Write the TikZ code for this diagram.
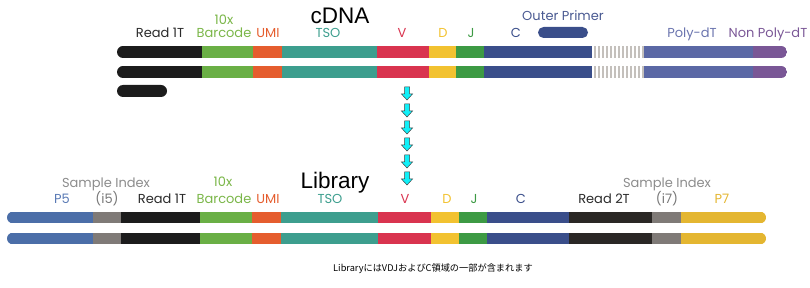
\documentclass[tikz,border=0pt]{standalone}
\usepackage{fontspec}
\setmainfont{Poppins}
\newfontfamily\titlefont{Liberation Sans}
\newfontfamily\jpfont{Noto Sans CJK JP}
\definecolor{cblack}{HTML}{1C1C1C}
\definecolor{bcgreen}{HTML}{6AAF45}
\definecolor{umiorange}{HTML}{E55D2E}
\definecolor{tsoteal}{HTML}{3D9E8E}
\definecolor{vred}{HTML}{D9344F}
\definecolor{dyellow}{HTML}{F2C230}
\definecolor{jgreen}{HTML}{3D9A44}
\definecolor{cblue}{HTML}{3A4E8A}
\definecolor{polydt}{HTML}{5B68A5}
\definecolor{nonpoly}{HTML}{7A5796}
\definecolor{p5blue}{HTML}{4B6EA8}
\definecolor{idxgray}{HTML}{7F7A77}
\definecolor{readtwo}{HTML}{2A2725}
\definecolor{p7yellow}{HTML}{E4B631}
\definecolor{stripegray}{HTML}{C4C0BC}
\definecolor{lblgreen}{HTML}{7AB648}
\definecolor{lblgray}{HTML}{8C8C8C}
\definecolor{lblparen}{HTML}{777777}
\definecolor{lblp5}{HTML}{5A7AB5}
\definecolor{lblouter}{HTML}{4A5A92}
\definecolor{lblpoly}{HTML}{6A74AE}
\definecolor{lbltext}{HTML}{2A2A2A}
\definecolor{arrowcyan}{HTML}{10F0F8}
% #1 y centre, #2 half height, #3 start x, #4 end x, #5 list end/colour
\newcommand\segbar[5]{%
  \begin{scope}
    \clip[rounded corners=#2pt] (#3,#1-#2) rectangle (#4,#1+#2);
    \foreach \xe/\cc [remember=\xe as \xs (initially #3)] in {#5}
      {\fill[\cc] (\xs,#1-#2) rectangle (\xe+0.4,#1+#2);}
  \end{scope}}
\newcommand\stripes[2]{% #1 y centre, #2 start x
  \foreach \i in {0,...,12}
    {\fill[stripegray] (#2+2+\i*4,#1-6) rectangle ++(1.8,12);}}
\newcommand\cyanarrow[3]{% #1 name, #2 x, #3 top y
  \coordinate (#1) at (#2,#3);
  \filldraw[fill=arrowcyan, draw=black!75, line width=0.5pt]
    (#2-2.5,#3) -- (#2+2.5,#3) -- (#2+2.5,#3+7) -- (#2+5.5,#3+7)
    -- (#2,#3+13) -- (#2-5.5,#3+7) -- (#2-2.5,#3+7) -- cycle;}
\tikzset{
  lbl/.style={anchor=base, inner sep=0pt, font=\fontsize{13}{14}\selectfont},
  title/.style={anchor=base, inner sep=0pt, font=\titlefont\fontsize{22.5}{24}\selectfont}
}
\begin{document}
\begin{tikzpicture}[x=1pt,y=-1pt]
\useasboundingbox (0,0) rectangle (810,288);
% ---------- cDNA ----------
\node[title] (cdna) at (340,24) {cDNA};
\node[lbl, text=lbltext] (r1t) at (160,38) {Read 1T};
\node[lbl, text=lblgreen] (tenx) at (224,25) {10x};
\node[lbl, text=lblgreen] (bc) at (224,38) {Barcode};
\node[lbl, text=umiorange] (umi) at (268,38) {UMI};
\node[lbl, text=tsoteal] (tso) at (328,38) {TSO};
\node[lbl, text=vred] (v) at (402,38) {V};
\node[lbl, text=dyellow] (d) at (443,38) {D};
\node[lbl, text=jgreen] (j) at (471,38) {J};
\node[lbl, text=cblue] (c) at (516,38) {C};
\node[lbl, text=lblouter] (outer) at (563,20.5) {Outer Primer};
\node[lbl, text=lblpoly] (poly) at (692,38) {Poly-dT};
\node[lbl, text=nonpoly] (nonp) at (768,38) {Non Poly-dT};
\fill[cblue] (538,27) [rounded corners=5.5pt] rectangle (588,38);
\foreach \yc in {52,72}{
  \segbar{\yc}{6}{117}{787}{202/cblack,253/bcgreen,282/umiorange,377/tsoteal,429/vred,456/dyellow,484/jgreen,592/cblue,644/white,753/polydt,787/nonpoly}
  \stripes{\yc}{592}
}
\fill[cblack, rounded corners=6pt] (117,85) rectangle (167,97);
% ---------- arrows ----------
\foreach \k/\yt in {1/87,2/104,3/121,4/138,5/155,6/172}
  {\cyanarrow{arr\k}{407}{\yt}}
% ---------- Library ----------
\node[title] (lib) at (335,189) {Library};
\node[lbl, text=lblgray] (si1) at (106,188) {Sample Index};
\node[lbl, text=lblp5] (p5) at (62,204) {P5};
\node[lbl, text=lblparen] (i5) at (107,204) {(i5)};
\node[lbl, text=lbltext] (br1t) at (162,204) {Read 1T};
\node[lbl, text=lblgreen] (btenx) at (223,186.5) {10x};
\node[lbl, text=lblgreen] (bbc) at (224,204) {Barcode};
\node[lbl, text=umiorange] (bumi) at (268,204) {UMI};
\node[lbl, text=tsoteal] (btso) at (330,204) {TSO};
\node[lbl, text=vred] (bv) at (405,204) {V};
\node[lbl, text=dyellow] (bd) at (447,204) {D};
\node[lbl, text=jgreen] (bj) at (474,204) {J};
\node[lbl, text=cblue] (bc2) at (521,204) {C};
\node[lbl, text=lbltext] (r2t) at (604,204) {Read 2T};
\node[lbl, text=lblgray] (si2) at (667,188) {Sample Index};
\node[lbl, text=lblparen] (i7) at (667,204) {(i7)};
\node[lbl, text=p7yellow] (p7) at (722,204) {P7};
\foreach \yc in {217.5,238.5}{
  \segbar{\yc}{5.75}{7}{766}{93/p5blue,121/idxgray,200/cblack,252/bcgreen,281/umiorange,378/tsoteal,431/vred,459/dyellow,487/jgreen,569/cblue,652/readtwo,681/idxgray,766/p7yellow}
}
% ---------- caption ----------
\node[anchor=base, inner sep=0pt, font=\jpfont\fontsize{9.2}{10}\selectfont] (cap) at (433,271) {LibraryにはVDJおよびC領域の一部が含まれます};
\end{tikzpicture}
\end{document}
